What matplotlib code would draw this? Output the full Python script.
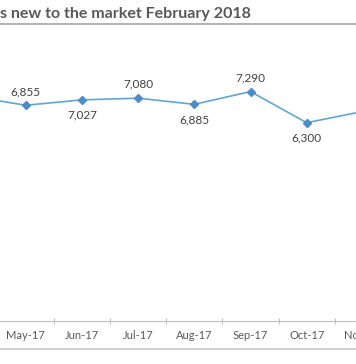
import matplotlib.pyplot as plt
import matplotlib.transforms as mtransforms
from matplotlib.lines import Line2D

plt.rcParams['font.family'] = ['Lato', 'DejaVu Sans']

# data (Apr-17 and Nov-17 sit just outside the visible crop)
months = ["Apr-17", "May-17", "Jun-17", "Jul-17", "Aug-17", "Sep-17", "Oct-17", "Nov-17"]
values = [7150, 6855, 7027, 7080, 6885, 7290, 6300, 6660]
label_side = ["below", "above", "below", "above", "below", "above", "below", "above"]
title = "s new to the market February 2018"

fig = plt.figure(figsize=(3.56, 3.64), dpi=100)
ax = fig.add_axes([0, 0.119, 1, 0.777])

x = list(range(len(months)))
ax.plot(x, values, color="#62a5d2", lw=1.2, marker="D", ms=4.5,
        mfc="#4e8bc9", mec="#4e8bc9")

for xi, v, side in zip(x, values, label_side):
    off = 6 if side == "above" else -7
    ax.annotate(f"{v:,}", (xi, v), xytext=(0, off), textcoords="offset points",
                ha="center", va="bottom" if side == "above" else "top",
                fontsize=8.5, color="#404040")

# category axis: tick marks between months, labels at month centres
ax.set_xticks([i + 0.5 for i in x])
ax.set_xticklabels([])
ax.tick_params(axis="x", which="major", direction="inout", length=4,
               color="#bfbfbf", width=0.8)
trans = mtransforms.blended_transform_factory(ax.transData, ax.transAxes)
for xi, m in zip(x, months):
    ax.text(xi, 0, m, transform=trans, ha="center", va="center",
            fontsize=8, color="#595959", clip_on=False,
            transform_rotates_text=False).set_y(-0.052)
ax.set_yticks([])
ax.set_xlim(0.543, 6.877)
ax.set_ylim(0, 9000)
for s in ["top", "left", "right"]:
    ax.spines[s].set_visible(False)
ax.spines["bottom"].set_color("#bfbfbf")
ax.spines["bottom"].set_linewidth(0.8)

fig.text(0, 1 - 14 / 364, title, ha="left", va="center", fontsize=11.5,
         fontweight="bold", color="#595959")
fig.add_artist(Line2D([0, 0.997], [1 - 24 / 364] * 2, color="#a6a6a6", lw=1.2))
fig.add_artist(Line2D([0, 1], [1 - 349 / 364] * 2, color="#c8c8c8", lw=1.2))

fig.savefig("out.png", dpi=100)
